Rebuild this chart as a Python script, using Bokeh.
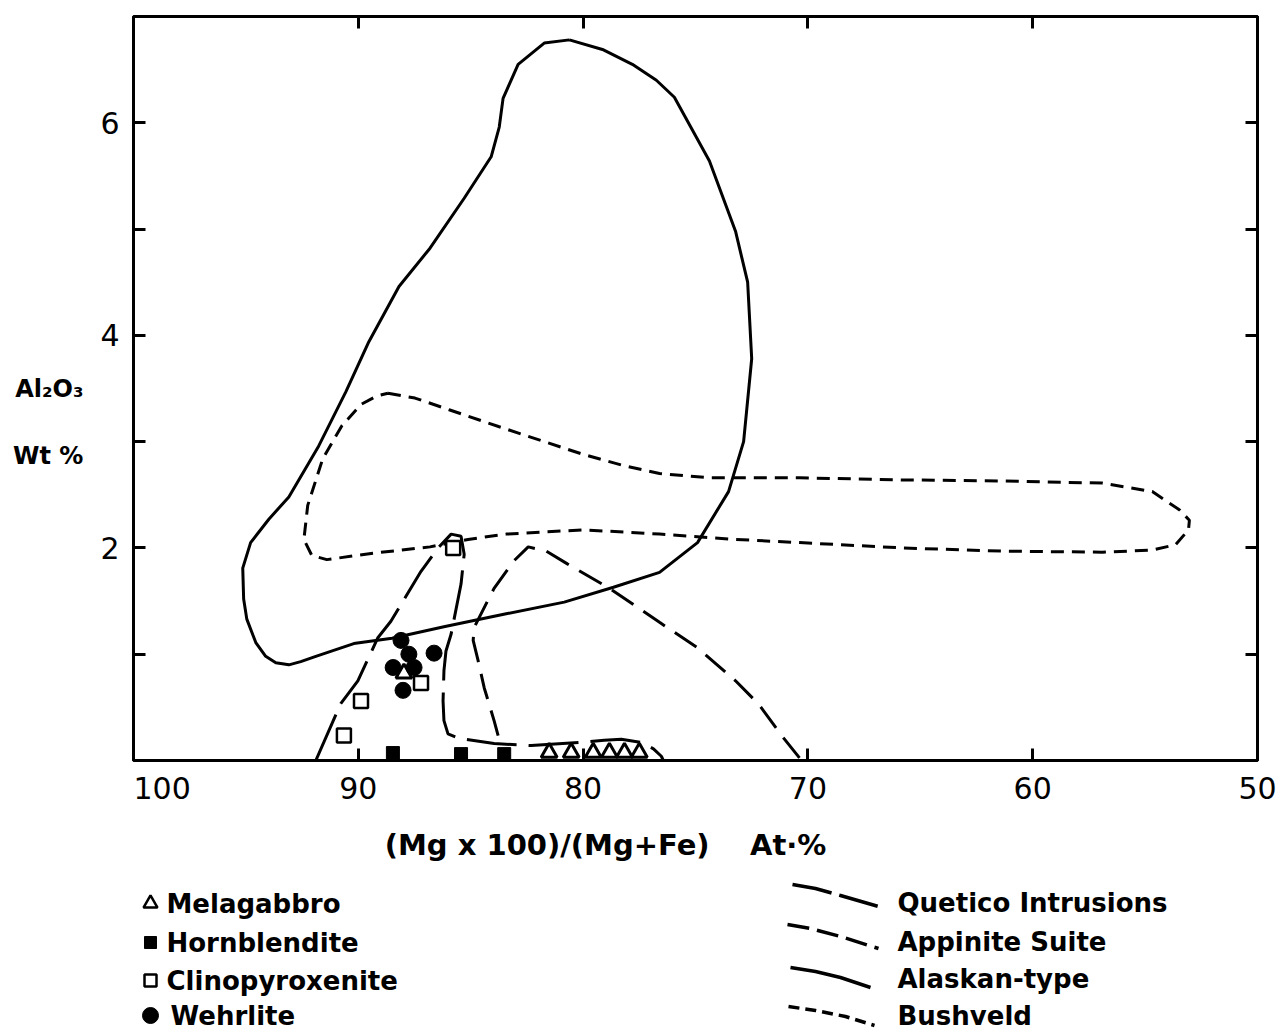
from bokeh.plotting import figure
from bokeh.models import Range1d, LinearAxis, FixedTicker
from bokeh.layouts import column
from bokeh.embed import file_html
from bokeh.resources import INLINE
from bokeh.core.properties import value

# ---------------- data ----------------
alaskan_x = [80.61, 79.14, 77.81, 76.74, 75.94, 74.38, 73.22, 72.68, 72.50, 72.86, 73.53, 74.91,
             76.60, 78.65, 80.84, 83.42, 86.14, 88.50, 90.20, 91.89, 92.56, 93.09, 93.67, 94.12,
             94.56, 94.96, 95.10, 95.14, 94.79, 93.98, 93.09, 91.76, 90.55, 89.53, 88.19, 86.81,
             85.29, 84.09, 83.73, 83.56, 82.89, 81.73, 80.61]
alaskan_y = [6.78, 6.69, 6.55, 6.40, 6.24, 5.64, 4.98, 4.50, 3.78, 3.00, 2.53, 2.05,
             1.77, 1.63, 1.49, 1.38, 1.26, 1.15, 1.10, 0.98, 0.93, 0.90, 0.92, 0.98,
             1.11, 1.33, 1.52, 1.81, 2.05, 2.27, 2.48, 2.96, 3.47, 3.94, 4.46, 4.82,
             5.29, 5.68, 5.96, 6.23, 6.55, 6.75, 6.78]

bushveld_x = [88.68, 87.48, 85.96, 83.73, 81.73, 79.99, 78.30, 76.60, 74.38, 70.37, 65.82, 61.36,
              56.91, 54.68, 53.48, 53.03, 53.07, 53.65, 54.68, 56.91, 61.36, 65.82, 70.37, 73.22,
              76.60, 79.99, 83.42, 85.12, 86.81, 89.35, 91.40, 92.07, 92.42, 92.25, 91.58, 90.73,
              89.88, 89.17, 88.68]
bushveld_y = [3.455, 3.41, 3.30, 3.14, 3.00, 2.88, 2.78, 2.70, 2.66, 2.66, 2.64, 2.63,
              2.61, 2.53, 2.36, 2.26, 2.17, 2.03, 1.98, 1.96, 1.97, 2.00, 2.05, 2.08,
              2.13, 2.17, 2.13, 2.08, 2.01, 1.95, 1.89, 1.93, 2.08, 2.40, 2.84, 3.15,
              3.35, 3.43, 3.455]

quetico_x = [91.89, 90.78, 90.02, 89.13, 88.55, 87.21, 86.45, 85.87, 85.43, 85.29, 85.43, 85.87,
             86.10, 86.19, 86.23, 86.19, 86.01, 85.56, 83.96, 82.31, 80.08, 79.06, 78.30, 77.41,
             76.87, 76.52, 76.43]
quetico_y = [0.0, 0.535, 0.75, 1.155, 1.31, 1.78, 2.00, 2.13, 2.11, 1.94, 1.66, 1.19,
             1.03, 0.845, 0.56, 0.375, 0.25, 0.21, 0.16, 0.14, 0.17, 0.19, 0.20, 0.17,
             0.11, 0.04, 0.0]

appinite_x = [83.78, 83.96, 84.40, 84.67, 84.89, 84.85, 84.54, 83.96, 83.07, 82.44, 81.64, 80.70,
              78.83, 76.60, 74.91, 73.22, 72.19, 71.17, 70.28]
appinite_y = [0.235, 0.375, 0.685, 0.94, 1.13, 1.25, 1.38, 1.62, 1.88, 2.01, 1.97, 1.85,
              1.62, 1.30, 1.06, 0.75, 0.53, 0.235, 0.0]

melagabbro_x = [87.97, 81.51, 80.53, 79.55, 78.83, 78.16, 77.50]
melagabbro_y = [0.82, 0.075, 0.075, 0.075, 0.075, 0.075, 0.075]

hornblendite_x = [88.46, 85.43, 83.51]
hornblendite_y = [0.07, 0.06, 0.06]

clinopyroxenite_x = [85.78, 89.88, 90.64, 87.21]
clinopyroxenite_y = [2.00, 0.56, 0.235, 0.73]

wehrlite_x = [88.10, 87.75, 87.52, 88.45, 88.01, 86.63]
wehrlite_y = [1.13, 1.00, 0.875, 0.875, 0.66, 1.01]

x_ticks = [100, 90, 80, 70, 60, 50]
x_inner_ticks = [90, 80, 70, 60]
x_labels = {100: "\u00a0" * 6 + "100"}
y_major = [2, 4, 6]
y_minor = [1, 3, 5]
y_all = [1, 2, 3, 4, 5, 6]

marker_labels = ["Melagabbro", "Hornblendite", "Clinopyroxenite", "Wehrlite"]
line_labels = ["Quetico Intrusions", "Appinite Suite", "Alaskan-type", "Bushveld"]
x_title = "(Mg x 100)/(Mg+Fe)\u00a0\u00a0\u00a0 At\u00b7%"
y_title = "\n\nAl\u2082O\u2083\n\nWt %"

# ---------------- layout ----------------
W = 1282
FL, FR, FT, FB = 133, 1257, 16, 760      # frame edges in page pixels
MAIN_H = 810

p = figure(width=W, height=MAIN_H, x_range=Range1d(100, 50), y_range=Range1d(0, 7),
           output_backend="svg", toolbar_location=None,
           min_border_left=FL, min_border_right=W - FR, min_border_top=FT,
           min_border_bottom=MAIN_H - FB)
p.grid.visible = False
p.outline_line_color = "black"
p.outline_line_width = 3
p.background_fill_color = "white"
p.border_fill_color = "white"


def style_axis(ax):
    for kind in ("major", "minor"):
        setattr(ax, kind + "_tick_in", 12)
        setattr(ax, kind + "_tick_out", 0)
        setattr(ax, kind + "_tick_line_width", 3)
        setattr(ax, kind + "_tick_line_color", "black")
    ax.axis_line_width = 3
    ax.axis_line_color = "black"
    ax.major_label_text_font = "DejaVu Sans"
    ax.major_label_text_font_size = "30px"
    ax.major_label_text_color = "black"


xa = p.xaxis[0]
xa.ticker = FixedTicker(ticks=x_ticks, minor_ticks=[])
style_axis(xa)
xa.major_label_overrides = x_labels
xa.major_label_standoff = 10

ya = p.yaxis[0]
ya.ticker = FixedTicker(ticks=y_major, minor_ticks=y_minor)
style_axis(ya)
ya.major_label_standoff = 14
ya.axis_label = y_title
ya.axis_label_orientation = "horizontal"
ya.axis_label_text_font = "DejaVu Sans"
ya.axis_label_text_font_style = "bold"
ya.axis_label_text_font_size = "24px"
ya.axis_label_text_color = "black"
ya.axis_label_standoff = 14

top_ax = LinearAxis(ticker=FixedTicker(ticks=[], minor_ticks=x_inner_ticks))
style_axis(top_ax)
p.add_layout(top_ax, "above")
right_ax = LinearAxis(ticker=FixedTicker(ticks=[], minor_ticks=y_all))
style_axis(right_ax)
p.add_layout(right_ax, "right")

# fields
p.line(alaskan_x, alaskan_y, line_color="black", line_width=3)
p.line(bushveld_x, bushveld_y, line_color="black", line_width=3, line_dash="13 8")
p.line(quetico_x, quetico_y, line_color="black", line_width=3, line_dash="50 12")
p.line(appinite_x, appinite_y, line_color="black", line_width=3, line_dash="26 12")

# samples
p.scatter(hornblendite_x, hornblendite_y, marker="square", size=13,
          fill_color="black", line_color="black", line_width=1)
p.scatter(melagabbro_x, melagabbro_y, marker="triangle", size=16,
          fill_color="white", line_color="black", line_width=3)
p.scatter(clinopyroxenite_x, clinopyroxenite_y, marker="square", size=14,
          fill_color="white", line_color="black", line_width=2.5)
p.scatter(wehrlite_x, wehrlite_y, marker="circle", size=16,
          fill_color="black", line_color="black")

# ---------------- legend / x title panel (page-pixel coordinates) ----------------
LG_H = 1030 - MAIN_H
lg = figure(width=W, height=LG_H, x_range=Range1d(FL, FR), y_range=Range1d(1030, MAIN_H),
            output_backend="svg", toolbar_location=None,
            min_border_left=FL, min_border_right=W - FR, min_border_top=0,
            min_border_bottom=0, x_axis_location=None, y_axis_location=None)
lg.grid.visible = False
lg.outline_line_color = None
lg.background_fill_color = "white"
lg.border_fill_color = "white"

FONT = value("DejaVu Sans")
lg.text(x=[605], y=[844], text=[x_title], text_font=FONT,
        text_font_style="bold", text_font_size="29px", text_align="center",
        text_baseline="middle", text_color="black")

rows_l = [903, 942, 980, 1015]
lg.scatter([150], [rows_l[0]], marker="triangle", size=14, fill_color="white",
           line_color="black", line_width=2.5)
lg.scatter([150], [rows_l[1]], marker="square", size=12, fill_color="black",
           line_color="black")
lg.scatter([150], [rows_l[2]], marker="square", size=12, fill_color="white",
           line_color="black", line_width=2.5)
lg.scatter([150], [rows_l[3]], marker="circle", size=16, fill_color="black",
           line_color="black")
lg.text(x=[166, 166, 166, 170], y=rows_l, text=marker_labels, text_font=FONT,
        text_font_style="bold", text_font_size="26px", text_baseline="middle",
        text_color="black")

rows_r = [902, 941, 978, 1015]
lg.line([792, 815, 840, 878], [884, 888, 895, 906], line_color="black", line_width=3.5,
        line_dash="40 8")
lg.line([787, 810, 840, 878], [924, 928, 936, 948], line_color="black", line_width=3.5,
        line_dash="22 8")
lg.line([790, 815, 840, 870], [967, 971, 977, 987], line_color="black", line_width=3.5)
lg.line([788, 815, 845, 874], [1006, 1010, 1016, 1025], line_color="black", line_width=3.5,
        line_dash="11 6")
lg.text(x=[897] * 4, y=rows_r, text=line_labels, text_font=FONT, text_font_style="bold",
        text_font_size="26px", text_baseline="middle", text_color="black")

layout = column(p, lg, spacing=0)
open("out.html", "w").write(file_html(layout, INLINE))
